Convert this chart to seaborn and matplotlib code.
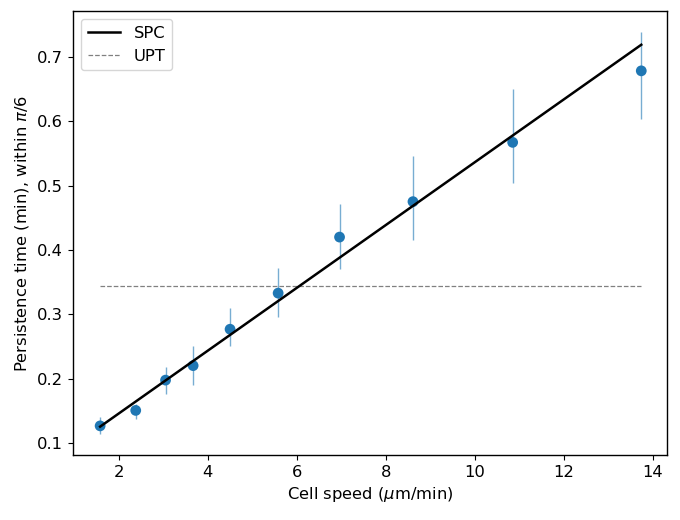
import numpy as np
import pandas as pd
import matplotlib
matplotlib.use("Agg")
import matplotlib.pyplot as plt
import seaborn as sns

plt.rcParams["font.size"] = 11.8
plt.rcParams["axes.linewidth"] = 1.0

# values
speed = [1.58, 2.38, 3.05, 3.67, 4.50, 5.58, 6.96, 8.61, 10.85, 13.74]
persist = [0.127, 0.151, 0.198, 0.2205, 0.277, 0.333, 0.420, 0.475, 0.567, 0.678]
err_low = [0.114, 0.137, 0.177, 0.191, 0.2506, 0.2966, 0.371, 0.4157, 0.5037, 0.603]
err_high = [0.140, 0.161, 0.219, 0.2516, 0.3097, 0.372, 0.4716, 0.5466, 0.6497, 0.7387]

# SPC fit line end points and UPT level
spc_x = [1.58, 13.74]
spc_y = [0.1258, 0.7185]
upt_x = [1.58, 13.74]
upt_y = [0.3447, 0.3447]

df = pd.DataFrame({"speed": speed, "persist": persist})
yerr = np.array([np.array(persist) - np.array(err_low),
                 np.array(err_high) - np.array(persist)])

fig, ax = plt.subplots(figsize=(6.8, 5.2), dpi=100)
fig.subplots_adjust(left=0.107, right=0.981, top=0.979, bottom=0.125)

# error bars
ax.errorbar(speed, persist, yerr=yerr, fmt="none", ecolor="#1f77b4",
            elinewidth=1, alpha=0.6, zorder=1)
sns.scatterplot(data=df, x="speed", y="persist", color="#1f77b4", s=60,
                edgecolor="none", ax=ax, zorder=2)

sns.lineplot(x=spc_x, y=spc_y, color="black", linewidth=1.8, label="SPC", ax=ax, zorder=3)
sns.lineplot(x=upt_x, y=upt_y, color="gray", linewidth=0.9, linestyle="--",
             label="UPT", ax=ax, zorder=1)

ax.set_xlim(0.965, 14.32)
ax.set_ylim(0.0818, 0.771)
ax.set_xticks([2, 4, 6, 8, 10, 12, 14])
ax.set_yticks([0.1, 0.2, 0.3, 0.4, 0.5, 0.6, 0.7])
ax.set_xlabel(r"Cell speed ($\mu$m/min)")
ax.set_ylabel(r"Persistence time (min), within $\pi/6$")
ax.legend(loc="upper left")

plt.savefig("out.png")
